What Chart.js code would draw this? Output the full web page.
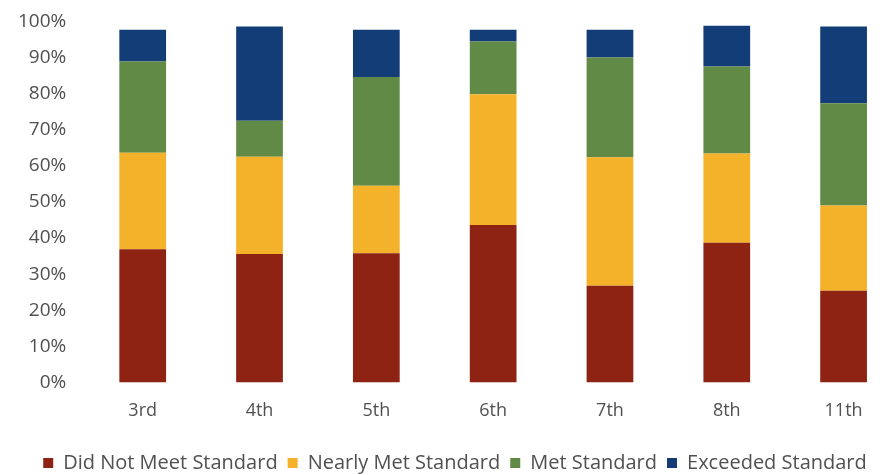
<!DOCTYPE html>
<html>
<head>
<meta charset="utf-8">
<script src="https://cdn.jsdelivr.net/npm/chart.js@4"></script>
<style>
  html, body { margin: 0; padding: 0; background: #fff; overflow: hidden; }
  #wrap { width: 902px; height: 475px; }
</style>
</head>
<body>
<div id="wrap"><canvas id="barChart"></canvas></div>
<script>
// grades and results (percent of students)
var grades = ["3rd", "4th", "5th", "6th", "7th", "8th", "11th"];
var didNotMeet = [36.9, 35.6, 35.8, 43.6, 26.8, 38.7, 25.4];
var nearlyMet  = [26.7, 26.9, 18.7, 36.2, 35.6, 24.7, 23.6];
var met        = [25.3, 10.0, 30.1, 14.6, 27.6, 24.1, 28.3];
var exceeded   = [8.8, 26.1, 13.1, 3.3, 7.7, 11.3, 21.3];
var yTicks = [0, 10, 20, 30, 40, 50, 60, 70, 80, 90, 100];

var ctx = document.getElementById("barChart").getContext('2d');
var myChart = new Chart(ctx, {
    type: 'bar',
    data: {
        labels: grades,
        datasets: [{
                label: "Did Not Meet Standard",
                data: didNotMeet,
                backgroundColor: '#8e2314'
            },
            {
                label: "Nearly Met Standard",
                data: nearlyMet,
                backgroundColor: '#f3b229'
            },
            {
                label: "Met Standard",
                data: met,
                backgroundColor: '#608a45'
            },
            {
                label: "Exceeded Standard",
                data: exceeded,
                backgroundColor: '#133d77'
            }
        ]
    },
    options: {
        responsive: true,
        maintainAspectRatio: false,
        animation: false,
        layout: { padding: { left: 8, right: 0, top: 0, bottom: -8 } },
        datasets: { bar: { categoryPercentage: 1, barPercentage: 0.4 } },
        scales: {
            x: {
                stacked: true,
                grid: { display: false },
                border: { display: false },
                ticks: { color: '#505050', padding: 10, font: { family: 'Open Sans', size: 18 } },
                afterFit: function (axis) { axis.height += 11; }
            },
            y: {
                stacked: true,
                min: 0,
                max: 100,
                afterBuildTicks: function (axis) {
                    axis.ticks = yTicks.map(function (v) { return { value: v }; });
                },
                grid: { display: false },
                border: { display: false },
                ticks: {
                    color: '#505050',
                    padding: 10,
                    font: { family: 'Open Sans', size: 19 },
                    callback: function (v) { return v + '%'; }
                }
            }
        },
        plugins: {
            tooltip: { enabled: false },
            legend: {
                position: 'bottom',
                labels: {
                    color: '#505050',
                    boxWidth: 10,
                    boxHeight: 10,
                    padding: 10,
                    font: { family: 'Open Sans', size: 20 }
                }
            }
        }
    }
});
</script>
</body>
</html>
